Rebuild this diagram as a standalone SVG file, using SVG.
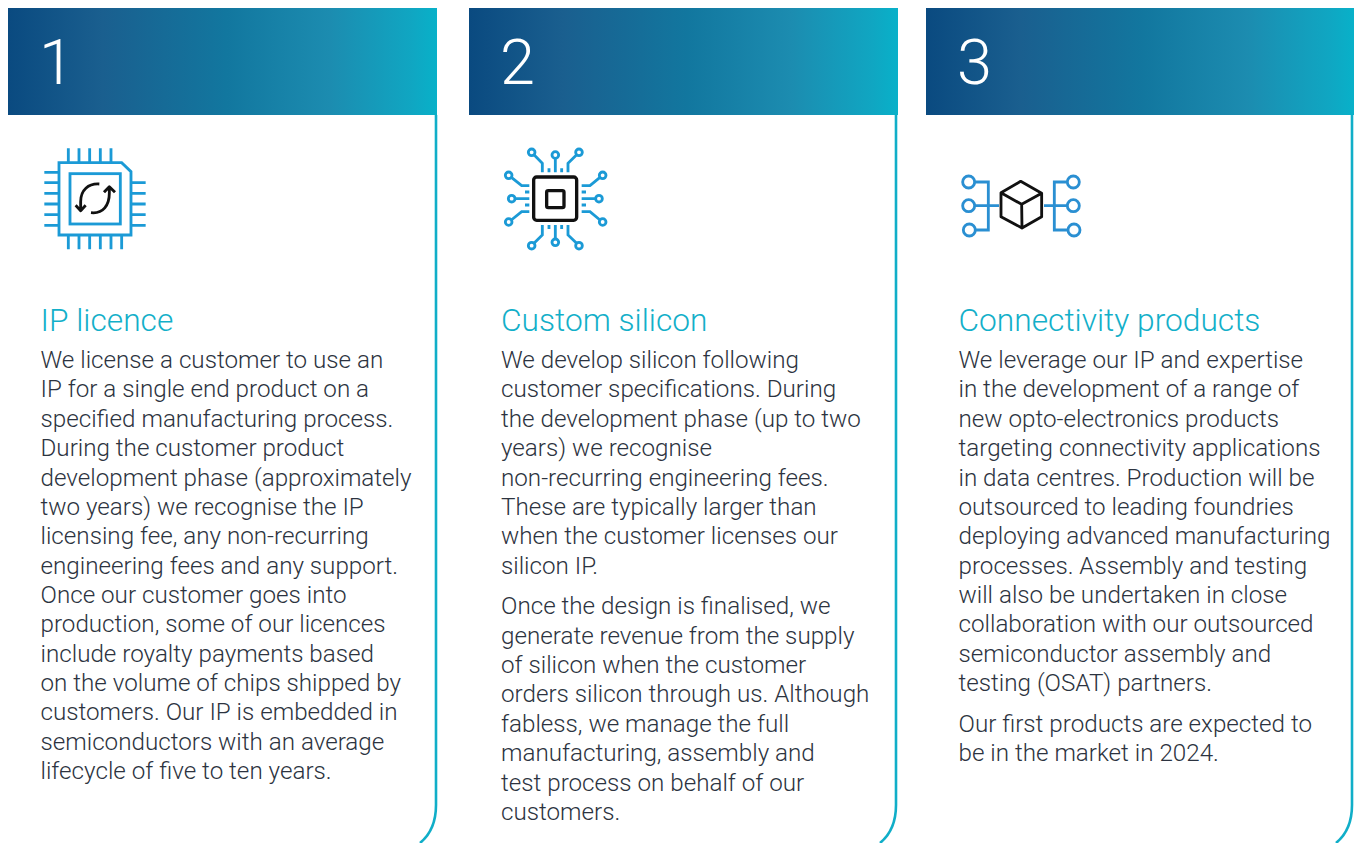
<svg xmlns="http://www.w3.org/2000/svg" width="1354" height="843" viewBox="0 0 1354 843">
<style>
text{font-family:Roboto,"Liberation Sans",sans-serif;font-weight:300}
.num{font-size:63px;fill:#fff}
.h{font-size:31.7px;fill:#13afc9}
.b{font-size:24.2px;fill:#2c3340}
.edge{fill:none;stroke:#10aec8;stroke-width:2.6}
.z{fill:none;stroke:#1b9ad6;stroke-width:8.5}
.kz{fill:none;stroke:#111;stroke-width:8.5;stroke-linejoin:round}
.kt{fill:none;stroke:#111;stroke-width:10;stroke-linejoin:round}
</style>
<defs>
<linearGradient id="g"><stop offset="0" stop-color="#0a4a80"/><stop offset=".22" stop-color="#1a5f8f"/><stop offset=".51" stop-color="#12779f"/><stop offset=".75" stop-color="#1c8cb0"/><stop offset=".94" stop-color="#10a6c2"/><stop offset="1" stop-color="#08b1c9"/></linearGradient>
</defs>
<rect width="1354" height="843" fill="#fff"/>
<g id="connectors">
<path class="edge" d="M436 115V805Q436 830 420 843"/>
<path class="edge" d="M896 115V805Q896 830 880 843"/>
<path class="edge" d="M1352 115V805Q1352 830 1336 843"/>
</g>
<g id="card1">
<rect x="8" y="8" width="429" height="107" fill="url(#g)"/>
<text class="num" x="39" y="84">1</text>
<g transform="translate(20 130) scale(.3333)">
<path class="z" d="M117 98H305L333 125V315H117Z"/>
<rect class="z" x="150" y="131" width="151" height="151"/>
<path class="z" d="M145 55V98M177 55V98M209 55V98M241 55V98M273 55V98M145 315V358M177 315V358M209 315V358M241 315V358M273 315V358M305 315V358M73 127H117M73 158H117M73 190H117M73 222H117M73 254H117M73 286H117M333 158H377M333 190H377M333 222H377M333 254H377M333 286H377"/>
<path class="kz" d="M238 162C205 160 182 180 182 215V242M167 226L182 242L197 226M213 248C250 252 268 225 268 190V170M252 187L268 170L285 187"/>
</g>
<text class="h" x="40.500" y="331">IP licence</text>
<text class="b">
<tspan x="40.500" y="368">We license a customer to use an</tspan>
<tspan x="40.500" y="397.400">IP for a single end product on a</tspan>
<tspan x="40.500" y="426.800">specified manufacturing process.</tspan>
<tspan x="40.500" y="456.200">During the customer product</tspan>
<tspan x="40.500" y="485.600">development phase (approximately</tspan>
<tspan x="40.500" y="515">two years) we recognise the IP</tspan>
<tspan x="40.500" y="544.400">licensing fee, any non-recurring</tspan>
<tspan x="40.500" y="573.800">engineering fees and any support.</tspan>
<tspan x="40.500" y="603.200">Once our customer goes into</tspan>
<tspan x="40.500" y="632.300">production, some of our licences</tspan>
<tspan x="40.500" y="662">include royalty payments based</tspan>
<tspan x="40.500" y="691.400">on the volume of chips shipped by</tspan>
<tspan x="40.500" y="720.300">customers. Our IP is embedded in</tspan>
<tspan x="40.500" y="750.200">semiconductors with an average</tspan>
<tspan x="40.500" y="779.300">lifecycle of five to ten years.</tspan>
</text>
</g>
<g id="card2">
<rect x="469" y="8" width="429" height="107" fill="url(#g)"/>
<text class="num" x="500" y="84">2</text>
<g transform="translate(490 135) scale(.3333)">
<rect class="kt" x="131" y="126" width="129" height="130" rx="9"/>
<rect class="kt" x="170" y="167" width="52" height="51" rx="5"/>
<g class="z">
<circle cx="125" cy="52" r="10"/><circle cx="196" cy="60" r="10"/><circle cx="267" cy="52" r="10"/>
<circle cx="125" cy="332" r="10"/><circle cx="196" cy="322" r="10"/><circle cx="267" cy="332" r="10"/>
<circle cx="56" cy="121" r="10"/><circle cx="65" cy="191" r="10"/><circle cx="56" cy="261" r="10"/>
<circle cx="338" cy="121" r="10"/><circle cx="327" cy="191" r="10"/><circle cx="338" cy="261" r="10"/>
<path d="M132 59L157 85V112M196 70V112M260 59L234 85V112M177 100V112M215 100V112M132 325L157 300V270M196 312V270M260 325L234 300V270M177 270V282M215 270V282M64 127L95 152H118M75 191H118M64 255L95 230H118M105 171H118M105 210H118M330 127L300 152H275M317 191H275M330 255L300 230H275M275 171H288M275 210H288"/>
</g>
</g>
<text class="h" x="501" y="331">Custom silicon</text>
<text class="b">
<tspan x="501" y="368">We develop silicon following</tspan>
<tspan x="501" y="397.400">customer specifications. During</tspan>
<tspan x="501" y="426.800">the development phase (up to two</tspan>
<tspan x="501" y="456.200">years) we recognise</tspan>
<tspan x="501" y="485.600">non-recurring engineering fees.</tspan>
<tspan x="501" y="515">These are typically larger than</tspan>
<tspan x="501" y="544.400">when the customer licenses our</tspan>
<tspan x="501" y="573.800">silicon IP.</tspan>
<tspan x="501" y="614.300">Once the design is finalised, we</tspan>
<tspan x="501" y="644">generate revenue from the supply</tspan>
<tspan x="501" y="673.400">of silicon when the customer</tspan>
<tspan x="501" y="702.300">orders silicon through us. Although</tspan>
<tspan x="501" y="732.200">fabless, we manage the full</tspan>
<tspan x="501" y="761.300">manufacturing, assembly and</tspan>
<tspan x="501" y="790.600">test process on behalf of our</tspan>
<tspan x="501" y="820.200">customers.</tspan>
</text>
</g>
<g id="card3">
<rect x="926" y="8" width="428" height="107" fill="url(#g)"/>
<text class="num" x="957" y="84">3</text>
<g transform="translate(950 160) scale(.3333)">
<g class="z" style="stroke:#2a8fd2">
<circle cx="56" cy="66" r="18"/><circle cx="56" cy="137" r="18"/><circle cx="58" cy="210" r="18"/>
<circle cx="370" cy="66" r="18"/><circle cx="370" cy="137" r="18"/><circle cx="372" cy="210" r="18"/>
<path d="M75 66H115V210H77M75 137H147M352 66H313V210H353M282 137H352"/>
</g>
<path class="kz" d="M212 64L275 100V170L216 204L153 170V98ZM153 98L215 133L275 100M215 133L216 204"/>
</g>
<text class="h" x="958.500" y="331">Connectivity products</text>
<text class="b">
<tspan x="958.500" y="368">We leverage our IP and expertise</tspan>
<tspan x="958.500" y="397.400">in the development of a range of</tspan>
<tspan x="958.500" y="426.800">new opto-electronics products</tspan>
<tspan x="958.500" y="456.200">targeting connectivity applications</tspan>
<tspan x="958.500" y="485.600">in data centres. Production will be</tspan>
<tspan x="958.500" y="515">outsourced to leading foundries</tspan>
<tspan x="958.500" y="544.400">deploying advanced manufacturing</tspan>
<tspan x="958.500" y="573.800">processes. Assembly and testing</tspan>
<tspan x="958.500" y="603.200">will also be undertaken in close</tspan>
<tspan x="958.500" y="632.300">collaboration with our outsourced</tspan>
<tspan x="958.500" y="662">semiconductor assembly and</tspan>
<tspan x="958.500" y="691.400">testing (OSAT) partners.</tspan>
<tspan x="958.500" y="732.200">Our first products are expected to</tspan>
<tspan x="958.500" y="761.300">be in the market in 2024.</tspan>
</text>
</g>
</svg>
